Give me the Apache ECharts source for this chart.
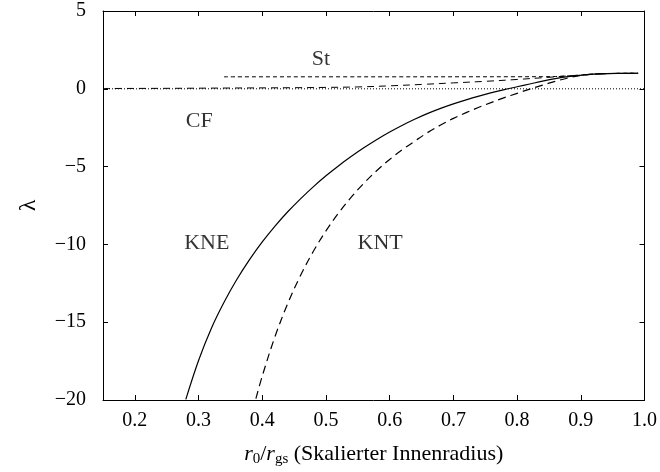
<!DOCTYPE html>
<html>
<head>
<meta charset="utf-8">
<script src="https://cdn.jsdelivr.net/npm/echarts@6/dist/echarts.min.js"></script>
<style>
  html, body { margin: 0; padding: 0; background: #fff; }
  #chart { width: 660px; height: 472px; }
</style>
</head>
<body>
<div id="chart"></div>
<script>
// values (x = r0/rgs, y = lambda)
const kne = [
  [0.28, -19.96], [0.30, -17.46], [0.32, -15.4], [0.34, -13.72], [0.36, -12.26],
  [0.38, -10.98], [0.40, -9.84], [0.42, -8.82], [0.44, -7.9], [0.46, -7.07],
  [0.48, -6.3], [0.50, -5.59], [0.52, -4.94], [0.54, -4.34], [0.56, -3.78],
  [0.58, -3.26], [0.60, -2.78], [0.62, -2.34], [0.64, -1.94], [0.66, -1.58],
  [0.68, -1.26], [0.70, -0.97], [0.72, -0.71], [0.74, -0.47], [0.76, -0.25],
  [0.78, -0.05], [0.80, 0.13], [0.82, 0.31], [0.84, 0.49], [0.86, 0.65],
  [0.88, 0.78], [0.90, 0.87], [0.92, 0.94], [0.94, 0.975], [0.96, 0.99], [0.99, 1.0],
];
const knt = [
  [0.39, -19.91], [0.40, -18.46], [0.42, -15.92], [0.44, -13.8], [0.46, -12.0],
  [0.48, -10.46], [0.50, -9.13], [0.52, -7.97], [0.54, -6.95], [0.56, -6.05],
  [0.58, -5.25], [0.60, -4.54], [0.62, -3.91], [0.64, -3.35], [0.66, -2.8],
  [0.68, -2.33], [0.70, -1.9], [0.72, -1.53], [0.74, -1.19], [0.76, -0.87],
  [0.78, -0.57], [0.80, -0.29], [0.82, -0.02], [0.84, 0.24], [0.86, 0.48],
  [0.88, 0.7], [0.90, 0.86], [0.92, 0.94], [0.94, 0.975], [0.96, 0.99], [0.99, 1.0],
];
const cf = [
  [0.15, 0.02], [0.25, 0.03], [0.35, 0.05], [0.45, 0.07], [0.50, 0.09],
  [0.55, 0.12], [0.60, 0.19], [0.65, 0.28], [0.70, 0.38], [0.75, 0.48],
  [0.80, 0.6], [0.85, 0.74], [0.88, 0.83], [0.90, 0.88], [0.92, 0.94],
  [0.94, 0.975], [0.96, 0.99], [0.99, 1.0],
];
const st = [
  [0.34, 0.77], [0.60, 0.77], [0.80, 0.775], [0.84, 0.78], [0.86, 0.79],
  [0.88, 0.83], [0.90, 0.88], [0.92, 0.94], [0.94, 0.975], [0.96, 0.99], [0.99, 1.0],
];
const zeroLine = [[0.15, 0], [1.0, 0]];
const xTicks = [0.2, 0.3, 0.4, 0.5, 0.6, 0.7, 0.8, 0.9, 1.0];
const curveLabels = [
  { name: 'St', value: [0.492, 1.9] },
  { name: 'CF', value: [0.301, -2.08] },
  { name: 'KNE', value: [0.313, -9.92] },
  { name: 'KNT', value: [0.585, -9.92] },
];

const serif = 'Liberation Serif';
const black = '#000';

function xAxisOpt(position) {
  return {
    type: 'value',
    position: position,
    min: 0.15,
    max: 1.0,
    axisLine: { show: true, onZero: false, lineStyle: { color: black, width: 1 } },
    axisTick: { show: true, inside: true, length: 5, customValues: xTicks, lineStyle: { color: black } },
    splitLine: { show: false },
  };
}
function yAxisOpt(position) {
  return {
    type: 'value',
    position: position,
    min: -20,
    max: 5,
    interval: 5,
    axisLine: { show: true, onZero: false, lineStyle: { color: black, width: 1 } },
    axisTick: { show: true, inside: true, length: 5, lineStyle: { color: black } },
    splitLine: { show: false },
  };
}

const xBottom = xAxisOpt('bottom');
xBottom.axisLabel = {
  customValues: xTicks,
  margin: 11,
  color: black,
  fontFamily: serif,
  fontSize: 20,
  formatter: (v) => v.toFixed(1),
};
xBottom.name = '{i|r}{s|0}/{i|r}{s|gs} (Skalierter Innenradius)';
xBottom.nameLocation = 'middle';
xBottom.nameGap = 42;
xBottom.nameTextStyle = {
  color: black,
  fontFamily: serif,
  fontSize: 22,
  rich: {
    i: { fontStyle: 'italic', fontFamily: serif, fontSize: 22, color: black },
    s: { fontFamily: serif, fontSize: 15, color: black, padding: [10, 0, 0, 0] },
  },
};
const xTop = xAxisOpt('top');
xTop.axisLabel = { show: false };

const yLeft = yAxisOpt('left');
yLeft.axisLabel = {
  margin: 17,
  color: black,
  fontFamily: serif,
  fontSize: 20,
  formatter: (v) => String(v).replace('-', '\u2212'),
};
yLeft.name = '\u03bb';
yLeft.nameLocation = 'middle';
yLeft.nameGap = 62;
yLeft.nameTextStyle = { color: black, fontFamily: serif, fontSize: 24 };
const yRight = yAxisOpt('right');
yRight.axisLabel = { show: false };

function curve(name, data, width, dash) {
  return {
    name: name,
    type: 'line',
    data: data,
    showSymbol: false,
    smooth: 0.35,
    lineStyle: { color: black, width: width, type: dash },
  };
}

const option = {
  backgroundColor: '#fff',
  animation: false,
  grid: { left: 103, right: 10, top: 11, bottom: 69 },
  xAxis: [xBottom, xTop],
  yAxis: [yLeft, yRight],
  series: [
    {
      type: 'line',
      data: zeroLine,
      showSymbol: false,
      lineStyle: { color: black, width: 1, type: [1, 2] },
    },
    curve('CF', cf, 1, [7, 5]),
    curve('St', st, 1, [4, 3]),
    curve('KNE', kne, 1.2, 'solid'),
    curve('KNT', knt, 1.2, [8, 5]),
    {
      type: 'scatter',
      data: curveLabels,
      symbolSize: 0,
      silent: true,
      label: {
        show: true,
        position: 'inside',
        formatter: '{b}',
        color: black,
        fontFamily: serif,
        fontSize: 22,
      },
    },
  ],
};

const chart = echarts.init(document.getElementById('chart'));
chart.setOption(option);
</script>
</body>
</html>
